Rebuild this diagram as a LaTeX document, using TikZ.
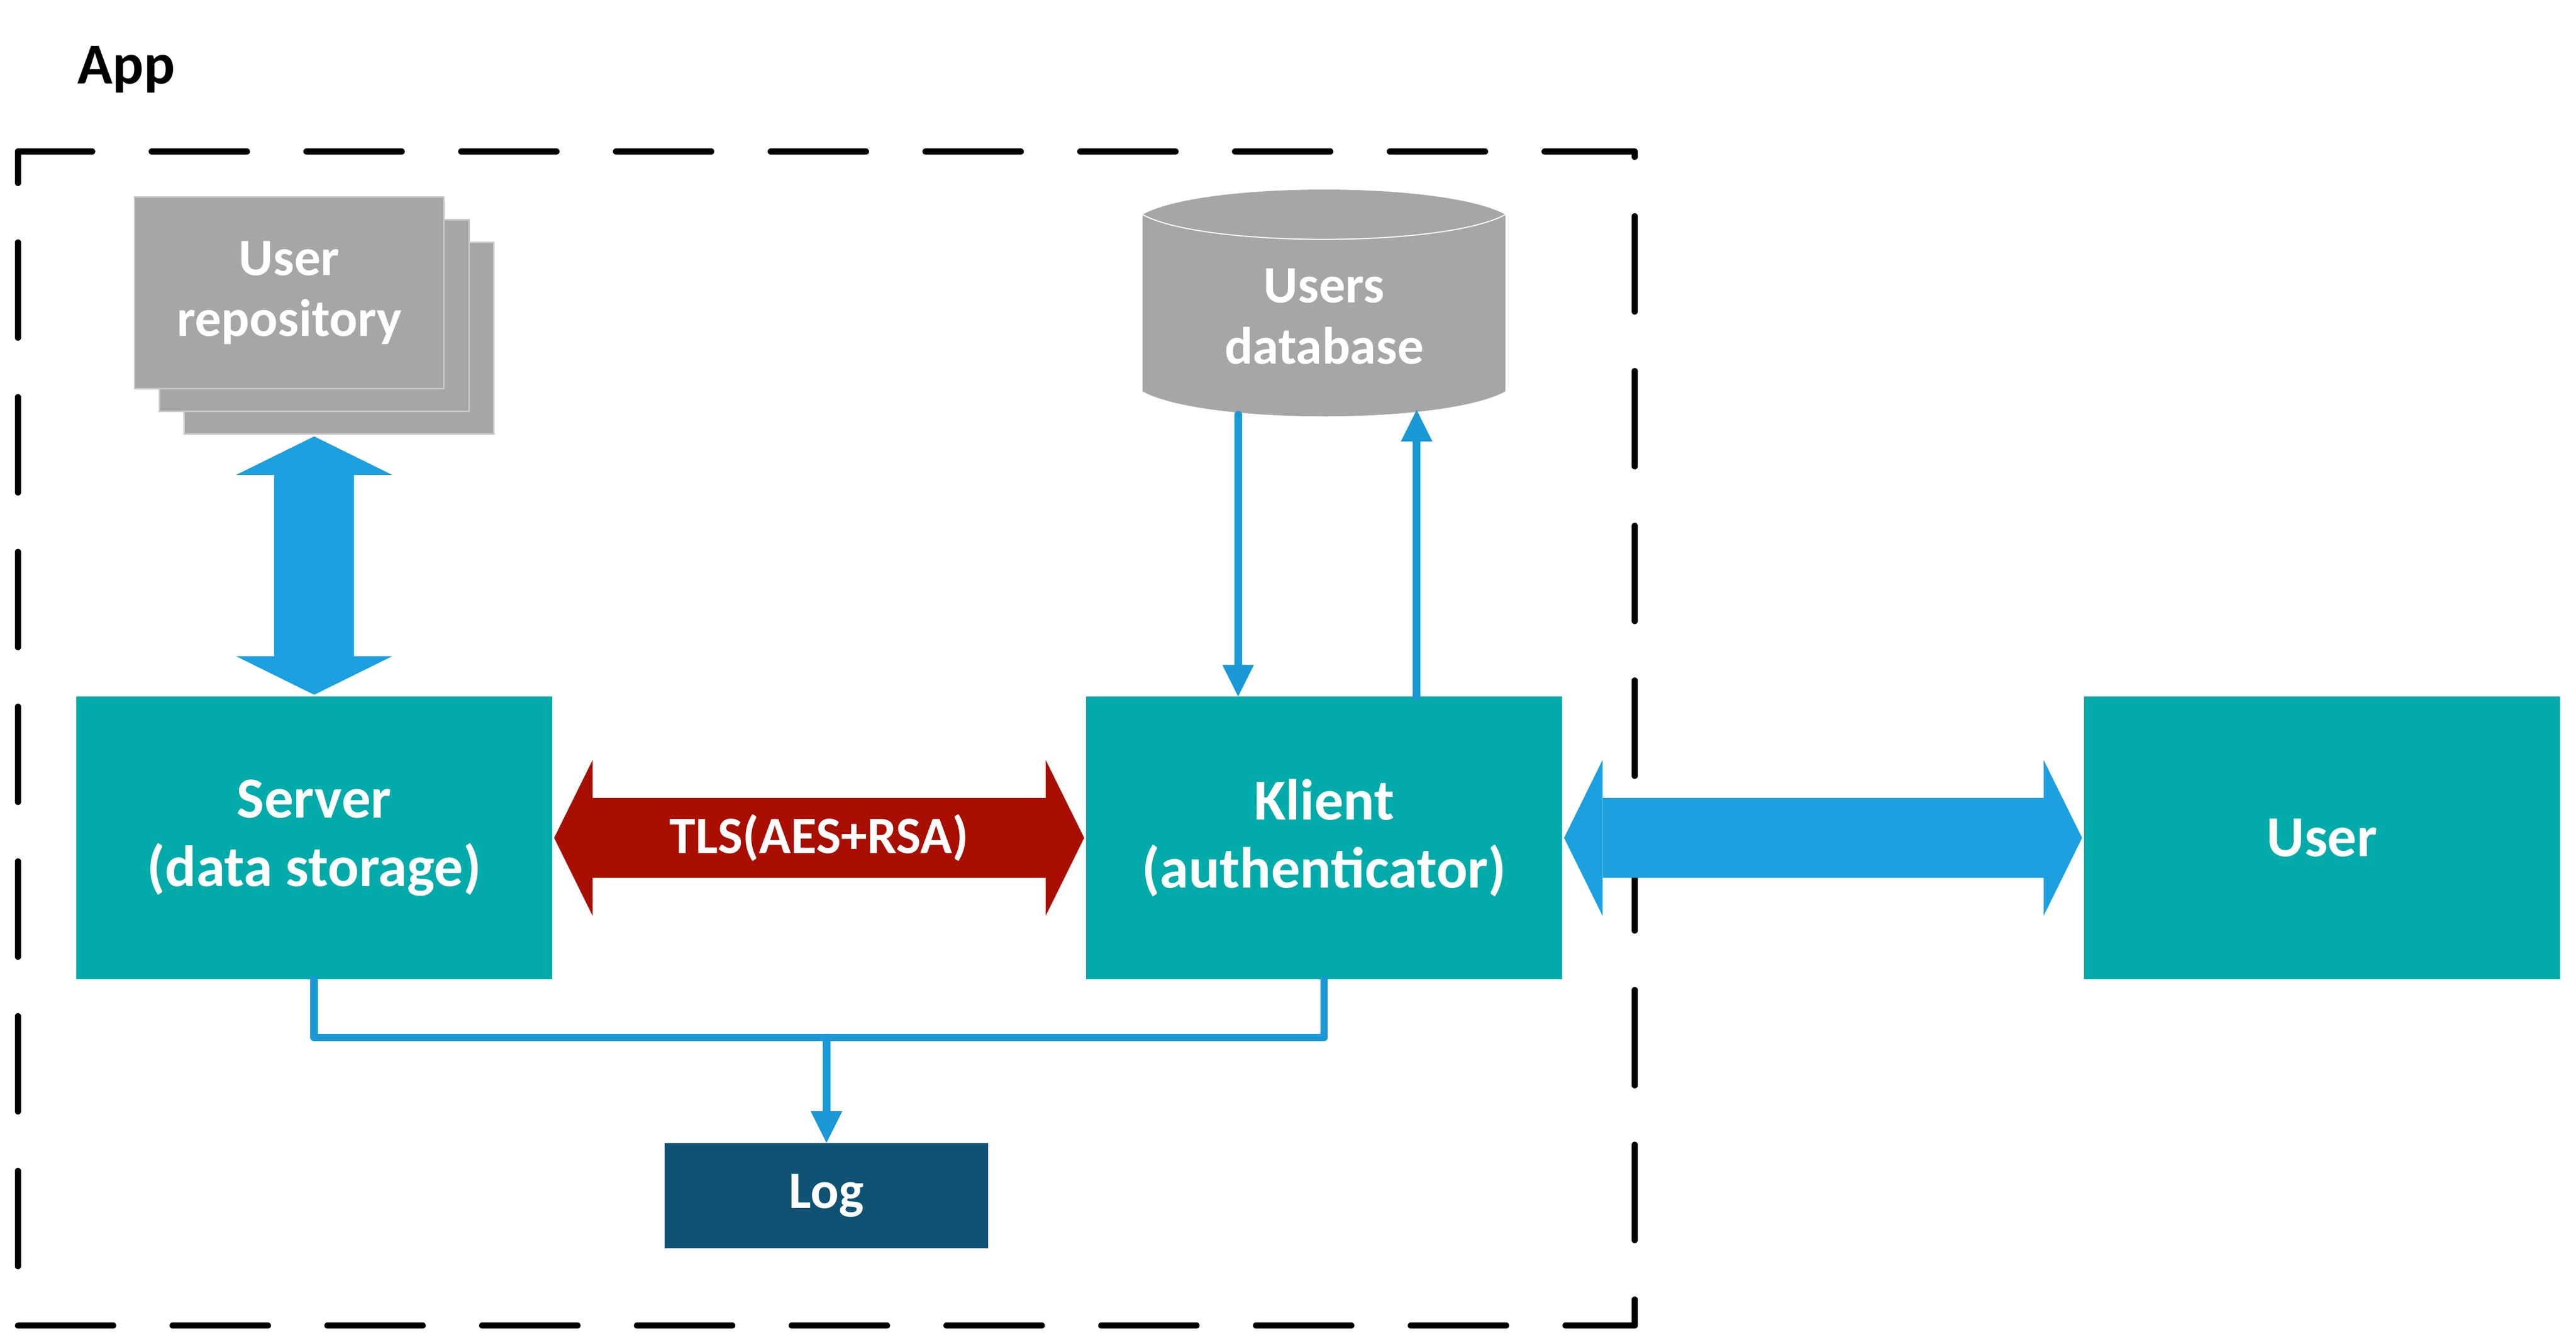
\documentclass[tikz,border=0pt]{standalone}
\usepackage{fontspec}
\setmainfont{Carlito}
\usetikzlibrary{arrows.meta}

\definecolor{boxteal}{RGB}{2,171,170}
\definecolor{boxblue}{RGB}{29,160,224}
\definecolor{lineblue}{RGB}{27,152,214}
\definecolor{tlsred}{RGB}{168,15,0}
\definecolor{logblue}{RGB}{15,82,115}
\definecolor{repogray}{RGB}{166,166,166}
\definecolor{sheetedge}{RGB}{200,200,200}

\newcommand{\bigfnt}{\fontsize{48}{56.6}\selectfont\bfseries}
\newcommand{\smallfnt}{\fontsize{43.5}{50.7}\selectfont\bfseries}

\tikzset{
  box/.style={rectangle, fill=boxteal, text=white, font=\bigfnt, align=center,
    minimum width=13.84cm, minimum height=8.21cm, inner sep=0pt},
  logbox/.style={rectangle, fill=logblue, text=white, font=\smallfnt,
    minimum width=9.4cm, minimum height=3.06cm, inner sep=0pt},
  sheet/.style={rectangle, fill=repogray, draw=sheetedge, line width=0.04cm,
    text=white, font=\smallfnt, align=center,
    minimum width=9cm, minimum height=5.57cm, inner sep=0pt},
  flow/.style={lineblue, line width=0.22cm, line cap=round, line join=round},
  dblarrow/.style={line width=2.32cm,
    {Triangle[length=1.12cm, width=4.54cm, line width=0pt]}-{Triangle[length=1.12cm, width=4.54cm, line width=0pt]},
    shorten <=0.05cm, shorten >=0.05cm}
}

\begin{document}
\begin{tikzpicture}[>={Triangle[length=0.92cm, width=0.92cm, line width=0pt]}]
  \useasboundingbox (0,0) rectangle (74.9,-39.07);

  \node[anchor=base west, inner sep=0pt, font=\bigfnt] (app) at (2.25,-2.43) {App};

  % dashed frame of the app
  \draw[line width=0.18cm, line cap=round, line join=round, dash pattern=on 2.77cm off 1.73cm]
    (0.52,-5.02) -- (0.52,-4.41) -- (47.53,-4.41) -- (47.53,-38.55) -- (0.52,-38.55) -- cycle;

  % user repository: stacked sheets
  \foreach \k in {2,1}{
    \node[sheet, xshift=\k*0.725cm, yshift=-\k*0.66cm] (repo\k) at (8.41,-8.515) {};
  }
  \node[sheet] (repo) at (8.41,-8.515) {User\\repository};

  % users database
  \fill[repogray] (33.22,-6.24) .. controls (34.98,-5.27) and (42.01,-5.27) .. (43.77,-6.24)
    -- (43.77,-11.38) .. controls (42.01,-12.35) and (34.98,-12.35) .. (33.22,-11.38) -- cycle;
  \draw[white, line width=0.03cm] (33.22,-6.24) .. controls (34.98,-7.2) and (42.01,-7.2) .. (43.77,-6.24);
  \node[font=\smallfnt, text=white, align=center] (db) at (38.5,-9.2) {Users\\database};
  \coordinate (dbin) at (36.0,-12.06);
  \coordinate (dbout) at (41.19,-11.92);

  \node[box] (server) at (9.135,-24.365) {Server\\(data storage)};
  \node[box] (klient) at (38.5,-24.365) {Klient\\(authenticator)};
  \node[box] (user) at (67.515,-24.365) {User};
  \node[logbox] (log) at (24.03,-34.77) {Log};

  % block arrows
  \draw[dblarrow, boxblue] (server.north) -- (server.north |- repo2.south);
  \draw[dblarrow, tlsred] (server.east) -- (klient.west)
    node[midway, font=\smallfnt, text=white] (tls) {TLS(AES+RSA)};
  \draw[dblarrow, boxblue] (klient.east) -- (user.west);

  % database access
  \draw[flow, ->] (dbin) -- (dbin |- klient.north);
  \draw[flow, ->] (dbout |- klient.north) -- (dbout);

  % logging
  \coordinate (logjoin) at (24.03,-30.17);
  \draw[flow] (server.south) |- (logjoin);
  \draw[flow] (klient.south) |- (logjoin);
  \draw[flow, ->] (logjoin) -- (log.north);
\end{tikzpicture}
\end{document}
